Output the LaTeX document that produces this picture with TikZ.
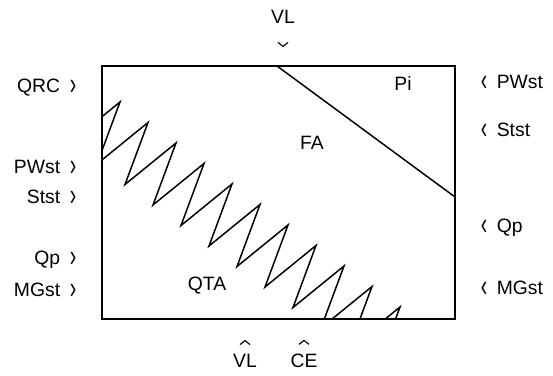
\documentclass[tikz,border=0pt]{standalone}
\usepackage{fontspec}
\setmainfont{Liberation Sans}
\usetikzlibrary{positioning,calc}
\newcommand{\rbrk}{\raisebox{-0.15ex}{\scalebox{1}[1.6]{›}}}
\newcommand{\lbrk}{\raisebox{-0.15ex}{\scalebox{1}[1.6]{‹}}}
\tikzset{
  lbl/.style={font=\fontsize{11}{13}\selectfont, inner sep=0pt},
  zone/.style={lbl},
  tickmark/.style={line width=0.65pt, line join=miter},
}

\begin{document}
\begin{tikzpicture}[x=0.02cm, y=-0.02cm, line width=0.85pt]
\useasboundingbox (0,0) rectangle (553,375);
% frame
\coordinate (tl) at (102,66);
\coordinate (br) at (455,319);
\draw (tl) rectangle (br);
% line between FA and Pi
\coordinate (vlcut) at (277,66);
\coordinate (qpcut) at (455,197);
\draw (vlcut) -- (qpcut);
% saw-tooth between QTA and FA
\begin{scope}
\clip (tl) rectangle (br);
\draw (69,143.5) \foreach \k in {1,...,12}{
  -- ({92+28*\k},{81.5+20.5*\k}) -- ({69+28*\k},{143.5+20.5*\k}) };
\end{scope}

\node[zone] (pi) at (403,83) {Pi};
\node[zone] (fa) at (312,143) {FA};
\node[zone] (qta) at (207,286) {QTA};

% top and bottom marks
\node[lbl] (vltop) at (283,17) {VL};
\draw[tickmark] ($(vltop.south)+(-5,18)$) -- ++(5,4) -- ++(5,-4);
\node[lbl] (vlbot) at (245,361) {VL};
\node[lbl] (ce) at (304,361) {CE};
\draw[tickmark] ($(vlbot.north)+(-5,-9)$) -- ++(5,-4) -- ++(5,4);
\draw[tickmark] ($(ce.north)+(-5,-9)$) -- ++(5,-4) -- ++(5,4);

% left side
\node[lbl, anchor=base east] (qrcl) at (77,92.5) {QRC\enspace\rbrk};
\node[lbl, anchor=base east] (pwstl) at (77,173.5) {PWst\enspace\rbrk};
\node[lbl, anchor=base east] (ststl) at (77,203.5) {Stst\enspace\rbrk};
\node[lbl, anchor=base east] (qpl) at (77,264.5) {Qp\enspace\rbrk};
\node[lbl, anchor=base east] (mgstl) at (77,296.5) {MGst\enspace\rbrk};
% right side
\node[lbl, anchor=base west] (pwstr) at (480,88.5) {\lbrk\enspace PWst};
\node[lbl, anchor=base west] (ststr) at (480,136.5) {\lbrk\enspace Stst};
\node[lbl, anchor=base west] (qpr) at (480,232.5) {\lbrk\enspace Qp};
\node[lbl, anchor=base west] (mgstr) at (480,294.5) {\lbrk\enspace MGst};
\end{tikzpicture}
\end{document}
